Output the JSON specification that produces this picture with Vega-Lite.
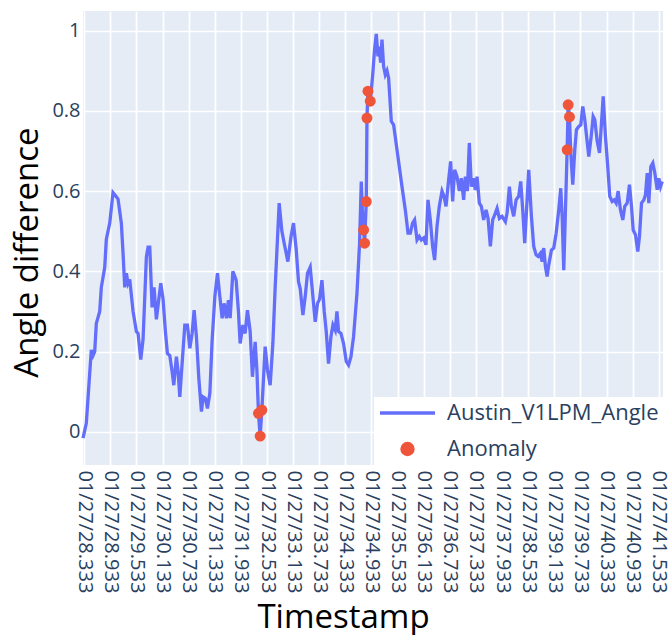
{
  "$schema": "https://vega.github.io/schema/vega-lite/v6.json",
  "width": 580,
  "height": 454,
  "autosize": {"type": "none"},
  "padding": {"left": 83, "top": 11, "right": 8, "bottom": 170},
  "background": "white",
  "config": {
    "view": {"fill": "#E5ECF6", "stroke": null},
    "axis": {"domain": false, "ticks": false, "gridColor": "white", "gridWidth": 1.7, "labelFont": "Open Sans", "labelFontSize": 20, "labelColor": "#2a3f5f", "titleFont": "Open Sans", "titleFontSize": 33, "titleFontWeight": "normal", "titleColor": "black"}
  },
  "datasets": {
    "angle": [
      {"t":28.305,"v":-0.016},{"t":28.381,"v":0.021},{"t":28.496,"v":0.204},{"t":28.535,"v":0.19},{"t":28.574,"v":0.20},{"t":28.611,"v":0.27},{"t":28.689,"v":0.30},{"t":28.726,"v":0.36},{"t":28.804,"v":0.41},{"t":28.841,"v":0.48},{"t":28.919,"v":0.52},{"t":28.995,"v":0.596},{"t":29.071,"v":0.586},{"t":29.110,"v":0.58},{"t":29.186,"v":0.52},{"t":29.225,"v":0.445},{"t":29.264,"v":0.36},{"t":29.301,"v":0.395},{"t":29.340,"v":0.37},{"t":29.379,"v":0.38},{"t":29.455,"v":0.30},{"t":29.531,"v":0.25},{"t":29.570,"v":0.245},{"t":29.632,"v":0.18},{"t":29.685,"v":0.23},{"t":29.761,"v":0.436},{"t":29.800,"v":0.46},{"t":29.839,"v":0.46},{"t":29.892,"v":0.31},{"t":29.938,"v":0.36},{"t":29.991,"v":0.28},{"t":30.046,"v":0.33},{"t":30.092,"v":0.37},{"t":30.145,"v":0.33},{"t":30.198,"v":0.25},{"t":30.244,"v":0.195},{"t":30.299,"v":0.19},{"t":30.352,"v":0.15},{"t":30.391,"v":0.116},{"t":30.451,"v":0.187},{"t":30.490,"v":0.15},{"t":30.529,"v":0.087},{"t":30.582,"v":0.17},{"t":30.644,"v":0.266},{"t":30.704,"v":0.266},{"t":30.759,"v":0.208},{"t":30.812,"v":0.245},{"t":30.858,"v":0.303},{"t":30.911,"v":0.237},{"t":30.966,"v":0.133},{"t":31.026,"v":0.05},{"t":31.065,"v":0.087},{"t":31.118,"v":0.083},{"t":31.164,"v":0.058},{"t":31.219,"v":0.096},{"t":31.272,"v":0.229},{"t":31.334,"v":0.337},{"t":31.394,"v":0.395},{"t":31.449,"v":0.337},{"t":31.502,"v":0.283},{"t":31.548,"v":0.32},{"t":31.600,"v":0.283},{"t":31.646,"v":0.328},{"t":31.686,"v":0.283},{"t":31.748,"v":0.40},{"t":31.823,"v":0.378},{"t":31.876,"v":0.30},{"t":31.915,"v":0.22},{"t":31.978,"v":0.266},{"t":32.030,"v":0.245},{"t":32.083,"v":0.303},{"t":32.145,"v":0.25},{"t":32.198,"v":0.137},{"t":32.260,"v":0.224},{"t":32.300,"v":0.154},{"t":32.336,"v":0.046},{"t":32.375,"v":-0.011},{"t":32.414,"v":0.054},{"t":32.490,"v":0.212},{"t":32.543,"v":0.154},{"t":32.605,"v":0.116},{"t":32.667,"v":0.22},{"t":32.720,"v":0.36},{"t":32.812,"v":0.57},{"t":32.874,"v":0.50},{"t":32.927,"v":0.47},{"t":33.012,"v":0.424},{"t":33.081,"v":0.485},{"t":33.141,"v":0.52},{"t":33.203,"v":0.455},{"t":33.256,"v":0.374},{"t":33.295,"v":0.357},{"t":33.357,"v":0.291},{"t":33.410,"v":0.337},{"t":33.463,"v":0.395},{"t":33.525,"v":0.41},{"t":33.587,"v":0.337},{"t":33.640,"v":0.274},{"t":33.693,"v":0.32},{"t":33.739,"v":0.33},{"t":33.794,"v":0.378},{"t":33.847,"v":0.30},{"t":33.893,"v":0.25},{"t":33.946,"v":0.17},{"t":34.001,"v":0.237},{"t":34.047,"v":0.266},{"t":34.100,"v":0.253},{"t":34.139,"v":0.30},{"t":34.176,"v":0.25},{"t":34.231,"v":0.245},{"t":34.291,"v":0.22},{"t":34.353,"v":0.175},{"t":34.406,"v":0.166},{"t":34.461,"v":0.187},{"t":34.521,"v":0.237},{"t":34.599,"v":0.345},{"t":34.659,"v":0.47},{"t":34.698,"v":0.624},{"t":34.728,"v":0.537},{"t":34.751,"v":0.503},{"t":34.774,"v":0.47},{"t":34.813,"v":0.574},{"t":34.829,"v":0.782},{"t":34.852,"v":0.849},{"t":34.905,"v":0.824},{"t":34.958,"v":0.886},{"t":35.004,"v":0.953},{"t":35.043,"v":0.992},{"t":35.082,"v":0.936},{"t":35.112,"v":0.96},{"t":35.142,"v":0.92},{"t":35.174,"v":0.978},{"t":35.211,"v":0.911},{"t":35.250,"v":0.89},{"t":35.289,"v":0.90},{"t":35.326,"v":0.882},{"t":35.388,"v":0.774},{"t":35.441,"v":0.765},{"t":35.519,"v":0.703},{"t":35.634,"v":0.611},{"t":35.710,"v":0.553},{"t":35.772,"v":0.495},{"t":35.825,"v":0.495},{"t":35.877,"v":0.52},{"t":35.923,"v":0.528},{"t":35.979,"v":0.478},{"t":36.031,"v":0.487},{"t":36.077,"v":0.478},{"t":36.130,"v":0.483},{"t":36.185,"v":0.466},{"t":36.231,"v":0.578},{"t":36.284,"v":0.528},{"t":36.337,"v":0.462},{"t":36.383,"v":0.428},{"t":36.438,"v":0.512},{"t":36.491,"v":0.562},{"t":36.553,"v":0.60},{"t":36.599,"v":0.587},{"t":36.645,"v":0.562},{"t":36.705,"v":0.628},{"t":36.751,"v":0.674},{"t":36.797,"v":0.574},{"t":36.843,"v":0.653},{"t":36.898,"v":0.636},{"t":36.951,"v":0.60},{"t":36.997,"v":0.632},{"t":37.050,"v":0.578},{"t":37.089,"v":0.636},{"t":37.135,"v":0.60},{"t":37.181,"v":0.72},{"t":37.227,"v":0.611},{"t":37.273,"v":0.632},{"t":37.319,"v":0.603},{"t":37.358,"v":0.636},{"t":37.411,"v":0.57},{"t":37.457,"v":0.562},{"t":37.510,"v":0.528},{"t":37.565,"v":0.553},{"t":37.611,"v":0.532},{"t":37.664,"v":0.462},{"t":37.717,"v":0.528},{"t":37.779,"v":0.545},{"t":37.818,"v":0.557},{"t":37.871,"v":0.532},{"t":37.933,"v":0.537},{"t":38.009,"v":0.524},{"t":38.048,"v":0.545},{"t":38.101,"v":0.611},{"t":38.147,"v":0.562},{"t":38.200,"v":0.537},{"t":38.255,"v":0.578},{"t":38.315,"v":0.587},{"t":38.361,"v":0.624},{"t":38.407,"v":0.553},{"t":38.453,"v":0.47},{"t":38.508,"v":0.578},{"t":38.545,"v":0.653},{"t":38.607,"v":0.537},{"t":38.660,"v":0.462},{"t":38.715,"v":0.441},{"t":38.761,"v":0.437},{"t":38.814,"v":0.445},{"t":38.853,"v":0.424},{"t":38.890,"v":0.458},{"t":38.929,"v":0.412},{"t":38.968,"v":0.387},{"t":39.005,"v":0.416},{"t":39.067,"v":0.453},{"t":39.120,"v":0.458},{"t":39.175,"v":0.495},{"t":39.235,"v":0.553},{"t":39.281,"v":0.607},{"t":39.313,"v":0.537},{"t":39.350,"v":0.403},{"t":39.389,"v":0.553},{"t":39.428,"v":0.703},{"t":39.451,"v":0.815},{"t":39.481,"v":0.785},{"t":39.511,"v":0.695},{"t":39.557,"v":0.616},{"t":39.603,"v":0.703},{"t":39.642,"v":0.753},{"t":39.695,"v":0.761},{"t":39.741,"v":0.765},{"t":39.787,"v":0.811},{"t":39.833,"v":0.778},{"t":39.879,"v":0.732},{"t":39.925,"v":0.686},{"t":39.980,"v":0.736},{"t":40.026,"v":0.786},{"t":40.063,"v":0.778},{"t":40.118,"v":0.724},{"t":40.171,"v":0.695},{"t":40.217,"v":0.77},{"t":40.256,"v":0.836},{"t":40.308,"v":0.736},{"t":40.361,"v":0.661},{"t":40.407,"v":0.587},{"t":40.462,"v":0.574},{"t":40.508,"v":0.578},{"t":40.554,"v":0.57},{"t":40.600,"v":0.60},{"t":40.653,"v":0.553},{"t":40.706,"v":0.528},{"t":40.752,"v":0.562},{"t":40.807,"v":0.57},{"t":40.860,"v":0.616},{"t":40.906,"v":0.562},{"t":40.945,"v":0.503},{"t":40.998,"v":0.491},{"t":41.051,"v":0.449},{"t":41.090,"v":0.487},{"t":41.136,"v":0.57},{"t":41.189,"v":0.578},{"t":41.228,"v":0.591},{"t":41.267,"v":0.645},{"t":41.304,"v":0.57},{"t":41.350,"v":0.661},{"t":41.396,"v":0.67},{"t":41.442,"v":0.645},{"t":41.497,"v":0.603},{"t":41.534,"v":0.632},{"t":41.573,"v":0.611},{"t":41.612,"v":0.624}
    ],
    "anomaly": [
      {"t":32.336,"v":0.046},{"t":32.375,"v":-0.011},{"t":32.414,"v":0.054},
      {"t":34.751,"v":0.503},{"t":34.774,"v":0.47},{"t":34.813,"v":0.574},{"t":34.829,"v":0.782},{"t":34.852,"v":0.849},{"t":34.905,"v":0.824},
      {"t":39.428,"v":0.703},{"t":39.451,"v":0.815},{"t":39.481,"v":0.785}
    ]
  },
  "encoding": {
    "x": {
      "field": "t", "type": "quantitative",
      "scale": {"domain": [28.305, 41.63], "nice": false, "zero": false},
      "axis": {
        "title": "Timestamp",
        "values": [28.333, 28.933, 29.533, 30.133, 30.733, 31.333, 31.933, 32.533, 33.133, 33.733, 34.333, 34.933, 35.533, 36.133, 36.733, 37.333, 37.933, 38.533, 39.133, 39.733, 40.333, 40.933, 41.533],
        "labelExpr": "'01/27/' + format(datum.value, '.3f')",
        "labelAngle": 90, "labelPadding": 5, "labelOverlap": false, "labelFlush": false,
        "titleX": 260, "titleY": 162, "titleBaseline": "alphabetic"
      }
    },
    "y": {
      "field": "v", "type": "quantitative",
      "scale": {"domain": [-0.083, 1.049], "nice": false, "zero": false},
      "axis": {
        "title": "Angle difference",
        "values": [0, 0.2, 0.4, 0.6, 0.8, 1],
        "format": ".1~f",
        "labelPadding": 3,
        "titleX": -46, "titleY": 241, "titleBaseline": "alphabetic"
      }
    }
  },
  "layer": [
    {
      "mark": {"type": "rule", "color": "white", "strokeWidth": 3.2},
      "encoding": {"y": {"datum": 0}, "x": null}
    },
    {
      "data": {"name": "angle"},
      "mark": {"type": "line", "strokeWidth": 3.3, "interpolate": "linear"},
      "encoding": {
        "color": {
          "datum": "Austin_V1LPM_Angle",
          "scale": {"domain": ["Austin_V1LPM_Angle", "Anomaly"], "range": ["#636EFA", "#EF553B"]},
          "legend": {
            "title": null,
            "orient": "bottom-right",
            "offset": 0,
            "fillColor": "white",
            "padding": 4,
            "rowPadding": 12,
            "clipHeight": 24,
            "labelFont": "Open Sans",
            "labelFontSize": 22,
            "labelLimit": 400,
            "labelColor": "#2a3f5f",
            "labelOffset": 10,
            "symbolSize": 3025,
            "symbolStrokeWidth": 3.4,
            "encode": {
              "symbols": {
                "update": {
                  "shape": {"signal": "datum.value === 'Anomaly' ? 'circle' : 'stroke'"},
                  "size": {"signal": "datum.value === 'Anomaly' ? 120 : 3025"},
                  "fill": {"signal": "datum.value === 'Anomaly' ? '#EF553B' : 'transparent'"},
                  "stroke": {"signal": "datum.value === 'Anomaly' ? 'transparent' : '#636EFA'"},
                  "strokeWidth": {"value": 3.4},
                  "opacity": {"value": 1}
                }
              }
            }
          }
        }
      }
    },
    {
      "data": {"name": "anomaly"},
      "mark": {"type": "point", "filled": true, "size": 120, "opacity": 1},
      "encoding": {"color": {"datum": "Anomaly"}}
    }
  ]
}
